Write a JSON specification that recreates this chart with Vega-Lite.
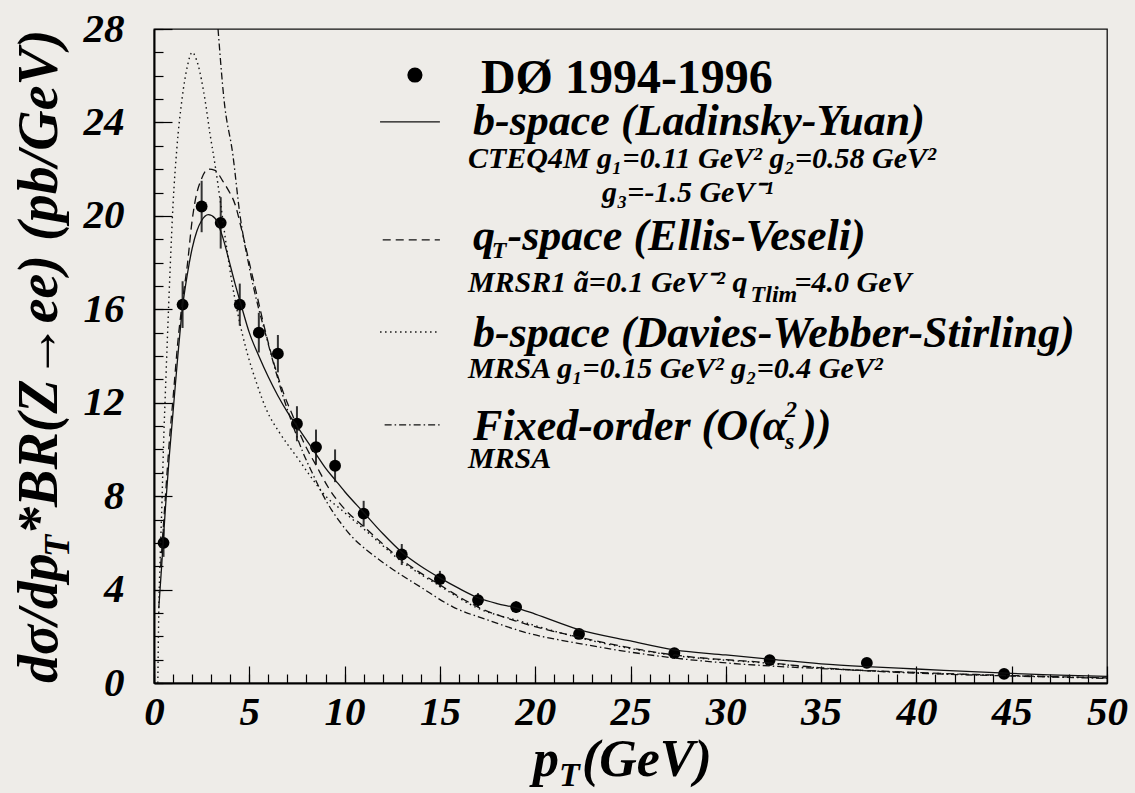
{
  "$schema": "https://vega.github.io/schema/vega-lite/v6.json",
  "width": 953,
  "height": 654,
  "autosize": {"type": "none"},
  "padding": {"left": 154, "top": 29, "right": 28, "bottom": 110},
  "background": "#eeece8",
  "config": {"view": {"stroke": "#111", "strokeWidth": 1.3, "fill": null}, "font": "Liberation Serif, Times New Roman, serif"},
  "resolve": {"axis": {"x": "independent", "y": "independent"}},
  "datasets": {
    "pts": [
      {"x": 0.5, "y": 6.0, "lo": 5.4, "hi": 6.6},
      {"x": 1.5, "y": 16.2, "lo": 15.2, "hi": 17.2},
      {"x": 2.5, "y": 20.4, "lo": 19.3, "hi": 21.5},
      {"x": 3.5, "y": 19.7, "lo": 18.6, "hi": 20.8},
      {"x": 4.5, "y": 16.2, "lo": 15.3, "hi": 17.1},
      {"x": 5.5, "y": 15.0, "lo": 14.15, "hi": 15.85},
      {"x": 6.5, "y": 14.1, "lo": 13.3, "hi": 14.9},
      {"x": 7.5, "y": 11.1, "lo": 10.35, "hi": 11.85},
      {"x": 8.5, "y": 10.1, "lo": 9.35, "hi": 10.85},
      {"x": 9.5, "y": 9.3, "lo": 8.6, "hi": 10.0},
      {"x": 11.0, "y": 7.25, "lo": 6.7, "hi": 7.8},
      {"x": 13.0, "y": 5.5, "lo": 5.05, "hi": 5.95},
      {"x": 15.0, "y": 4.45, "lo": 4.1, "hi": 4.8},
      {"x": 17.0, "y": 3.55, "lo": 3.25, "hi": 3.85},
      {"x": 19.0, "y": 3.25, "lo": 3.0, "hi": 3.5},
      {"x": 22.3, "y": 2.1, "lo": 1.95, "hi": 2.25},
      {"x": 27.3, "y": 1.28, "lo": 1.18, "hi": 1.38},
      {"x": 32.3, "y": 0.98, "lo": 0.88, "hi": 1.08},
      {"x": 37.4, "y": 0.86, "lo": 0.78, "hi": 0.94},
      {"x": 44.6, "y": 0.39, "lo": 0.34, "hi": 0.44}
    ],
    "curves": [
      {"m": "ly", "x": 0.25, "y": 3.2}, {"m": "ly", "x": 0.4, "y": 5.0}, {"m": "ly", "x": 0.6, "y": 7.5},
      {"m": "ly", "x": 0.8, "y": 9.7}, {"m": "ly", "x": 1.0, "y": 11.6}, {"m": "ly", "x": 1.25, "y": 14.0},
      {"m": "ly", "x": 1.5, "y": 16.1}, {"m": "ly", "x": 1.75, "y": 17.5}, {"m": "ly", "x": 2.0, "y": 18.6},
      {"m": "ly", "x": 2.25, "y": 19.35}, {"m": "ly", "x": 2.5, "y": 19.8}, {"m": "ly", "x": 2.85, "y": 20.05},
      {"m": "ly", "x": 3.2, "y": 19.9}, {"m": "ly", "x": 3.6, "y": 19.1}, {"m": "ly", "x": 3.9, "y": 18.2},
      {"m": "ly", "x": 4.25, "y": 17.1}, {"m": "ly", "x": 4.6, "y": 16.1}, {"m": "ly", "x": 5.0, "y": 15.0},
      {"m": "ly", "x": 5.5, "y": 14.0}, {"m": "ly", "x": 6.0, "y": 13.1}, {"m": "ly", "x": 6.5, "y": 12.3},
      {"m": "ly", "x": 7.0, "y": 11.6}, {"m": "ly", "x": 7.5, "y": 11.0}, {"m": "ly", "x": 8.0, "y": 10.4},
      {"m": "ly", "x": 8.5, "y": 9.8}, {"m": "ly", "x": 9.0, "y": 9.2}, {"m": "ly", "x": 9.5, "y": 8.7},
      {"m": "ly", "x": 10.0, "y": 8.2}, {"m": "ly", "x": 11.0, "y": 7.3}, {"m": "ly", "x": 12.0, "y": 6.4},
      {"m": "ly", "x": 13.0, "y": 5.6}, {"m": "ly", "x": 14.0, "y": 5.0}, {"m": "ly", "x": 15.0, "y": 4.5},
      {"m": "ly", "x": 16.0, "y": 4.05}, {"m": "ly", "x": 17.0, "y": 3.65}, {"m": "ly", "x": 18.0, "y": 3.4},
      {"m": "ly", "x": 19.0, "y": 3.22}, {"m": "ly", "x": 20.0, "y": 2.95}, {"m": "ly", "x": 22.25, "y": 2.3},
      {"m": "ly", "x": 25.0, "y": 1.8}, {"m": "ly", "x": 27.3, "y": 1.42}, {"m": "ly", "x": 30.0, "y": 1.2},
      {"m": "ly", "x": 32.3, "y": 1.02}, {"m": "ly", "x": 35.0, "y": 0.82}, {"m": "ly", "x": 37.4, "y": 0.7},
      {"m": "ly", "x": 40.0, "y": 0.6}, {"m": "ly", "x": 44.4, "y": 0.43}, {"m": "ly", "x": 47.0, "y": 0.35},
      {"m": "ly", "x": 50.0, "y": 0.28},
      {"m": "ev", "x": 0.35, "y": 5.0}, {"m": "ev", "x": 0.6, "y": 8.0}, {"m": "ev", "x": 0.8, "y": 10.3},
      {"m": "ev", "x": 1.0, "y": 12.2}, {"m": "ev", "x": 1.25, "y": 14.6}, {"m": "ev", "x": 1.5, "y": 16.4},
      {"m": "ev", "x": 1.75, "y": 17.9}, {"m": "ev", "x": 2.0, "y": 19.8}, {"m": "ev", "x": 2.15, "y": 20.6},
      {"m": "ev", "x": 2.5, "y": 21.6}, {"m": "ev", "x": 2.85, "y": 22.0}, {"m": "ev", "x": 3.2, "y": 21.95},
      {"m": "ev", "x": 3.6, "y": 21.5}, {"m": "ev", "x": 3.9, "y": 21.1}, {"m": "ev", "x": 4.25, "y": 20.5},
      {"m": "ev", "x": 4.6, "y": 19.4}, {"m": "ev", "x": 5.0, "y": 18.0}, {"m": "ev", "x": 5.4, "y": 16.6},
      {"m": "ev", "x": 5.8, "y": 15.2}, {"m": "ev", "x": 6.25, "y": 13.8}, {"m": "ev", "x": 6.8, "y": 12.4},
      {"m": "ev", "x": 7.3, "y": 11.4}, {"m": "ev", "x": 7.8, "y": 10.4}, {"m": "ev", "x": 8.55, "y": 9.25},
      {"m": "ev", "x": 9.2, "y": 8.3}, {"m": "ev", "x": 10.0, "y": 7.45}, {"m": "ev", "x": 11.0, "y": 6.7},
      {"m": "ev", "x": 13.0, "y": 5.27}, {"m": "ev", "x": 15.0, "y": 4.2}, {"m": "ev", "x": 17.0, "y": 3.25},
      {"m": "ev", "x": 19.2, "y": 2.6}, {"m": "ev", "x": 22.25, "y": 1.97}, {"m": "ev", "x": 27.3, "y": 1.2},
      {"m": "ev", "x": 32.3, "y": 0.86}, {"m": "ev", "x": 35.0, "y": 0.65}, {"m": "ev", "x": 40.0, "y": 0.45},
      {"m": "ev", "x": 45.0, "y": 0.32}, {"m": "ev", "x": 50.0, "y": 0.22},
      {"m": "dws", "x": 0.2, "y": 0.0}, {"m": "dws", "x": 0.25, "y": 3.0}, {"m": "dws", "x": 0.33, "y": 5.5},
      {"m": "dws", "x": 0.42, "y": 7.8}, {"m": "dws", "x": 0.5, "y": 10.2}, {"m": "dws", "x": 0.6, "y": 12.5},
      {"m": "dws", "x": 0.7, "y": 14.7}, {"m": "dws", "x": 0.85, "y": 17.8}, {"m": "dws", "x": 1.0, "y": 20.5},
      {"m": "dws", "x": 1.2, "y": 22.9}, {"m": "dws", "x": 1.47, "y": 25.0}, {"m": "dws", "x": 1.75, "y": 26.4},
      {"m": "dws", "x": 2.0, "y": 27.0}, {"m": "dws", "x": 2.3, "y": 26.5}, {"m": "dws", "x": 2.67, "y": 25.0},
      {"m": "dws", "x": 2.94, "y": 23.5}, {"m": "dws", "x": 3.2, "y": 22.2}, {"m": "dws", "x": 3.5, "y": 20.5},
      {"m": "dws", "x": 3.8, "y": 18.7}, {"m": "dws", "x": 4.1, "y": 17.1}, {"m": "dws", "x": 4.4, "y": 15.8},
      {"m": "dws", "x": 4.9, "y": 14.1}, {"m": "dws", "x": 5.4, "y": 12.8}, {"m": "dws", "x": 5.9, "y": 11.7},
      {"m": "dws", "x": 6.6, "y": 10.7}, {"m": "dws", "x": 7.5, "y": 9.67}, {"m": "dws", "x": 8.34, "y": 8.7},
      {"m": "dws", "x": 8.9, "y": 8.1}, {"m": "dws", "x": 10.0, "y": 7.3}, {"m": "dws", "x": 11.0, "y": 6.6},
      {"m": "dws", "x": 13.0, "y": 5.2}, {"m": "dws", "x": 15.0, "y": 4.15}, {"m": "dws", "x": 17.0, "y": 3.2},
      {"m": "dws", "x": 19.2, "y": 2.65}, {"m": "dws", "x": 22.25, "y": 1.95}, {"m": "dws", "x": 27.3, "y": 1.18},
      {"m": "dws", "x": 32.3, "y": 0.84}, {"m": "dws", "x": 35.0, "y": 0.64}, {"m": "dws", "x": 40.0, "y": 0.44},
      {"m": "dws", "x": 45.0, "y": 0.31}, {"m": "dws", "x": 50.0, "y": 0.22},
      {"m": "fo", "x": 3.36, "y": 28.0}, {"m": "fo", "x": 3.67, "y": 25.0}, {"m": "fo", "x": 4.14, "y": 22.6},
      {"m": "fo", "x": 4.5, "y": 20.1}, {"m": "fo", "x": 5.0, "y": 17.8}, {"m": "fo", "x": 5.5, "y": 16.0},
      {"m": "fo", "x": 5.8, "y": 15.1}, {"m": "fo", "x": 6.3, "y": 13.6}, {"m": "fo", "x": 6.8, "y": 12.2},
      {"m": "fo", "x": 7.3, "y": 11.0}, {"m": "fo", "x": 7.8, "y": 9.9}, {"m": "fo", "x": 8.3, "y": 9.0},
      {"m": "fo", "x": 9.1, "y": 7.7}, {"m": "fo", "x": 9.8, "y": 6.85}, {"m": "fo", "x": 10.4, "y": 6.25},
      {"m": "fo", "x": 11.3, "y": 5.6}, {"m": "fo", "x": 12.2, "y": 5.05}, {"m": "fo", "x": 14.0, "y": 4.1},
      {"m": "fo", "x": 15.7, "y": 3.25}, {"m": "fo", "x": 17.5, "y": 2.7}, {"m": "fo", "x": 19.6, "y": 2.14},
      {"m": "fo", "x": 22.25, "y": 1.7}, {"m": "fo", "x": 27.3, "y": 1.07}, {"m": "fo", "x": 32.3, "y": 0.73},
      {"m": "fo", "x": 36.0, "y": 0.58}, {"m": "fo", "x": 40.0, "y": 0.42}, {"m": "fo", "x": 45.0, "y": 0.3},
      {"m": "fo", "x": 50.0, "y": 0.2}
    ],
    "legLines": [
      {"m": "ly", "x": 11.86, "x2": 15.0, "y": 24.02},
      {"m": "ev", "x": 12.0, "x2": 15.0, "y": 18.97},
      {"m": "dws", "x": 11.86, "x2": 15.0, "y": 15.03},
      {"m": "fo", "x": 12.1, "x2": 15.0, "y": 11.05}
    ],
    "legDot": [{"x": 13.69, "y": 26.03}],
    "tTitle": [{"x": 17.15, "y": 25.26, "t": "DØ 1994-1996"}],
    "tHead": [
      {"x": 16.74, "y": 23.46, "t": "b-space (Ladinsky-Yuan)"},
      {"x": 16.74, "y": 18.54, "t": "q"},
      {"x": 18.55, "y": 18.54, "t": "-space (Ellis-Veseli)"},
      {"x": 16.74, "y": 14.39, "t": "b-space (Davies-Webber-Stirling)"},
      {"x": 16.74, "y": 10.4, "t": "Fixed-order (O(α"},
      {"x": 34.0, "y": 10.4, "t": "))"}
    ],
    "tSub": [
      {"x": 16.47, "y": 22.05, "t": "CTEQ4M g₁=0.11 GeV² g₂=0.58 GeV²"},
      {"x": 23.5, "y": 20.59, "t": "g₃=-1.5 GeV⁻¹"},
      {"x": 16.47, "y": 16.74, "t": "MRSR1 ã=0.1 GeV⁻² q"},
      {"x": 33.6, "y": 16.74, "t": "=4.0 GeV"},
      {"x": 16.47, "y": 13.06, "t": "MRSA g₁=0.15 GeV² g₂=0.4 GeV²"},
      {"x": 16.47, "y": 9.2, "t": "MRSA"}
    ],
    "tTiny": [
      {"x": 17.72, "y": 18.2, "t": "T"},
      {"x": 31.3, "y": 16.31, "t": "Tlim"},
      {"x": 33.1, "y": 11.4, "t": "2"},
      {"x": 33.1, "y": 10.0, "t": "s"}
    ],
    "tXTitle": [
      {"x": 19.88, "y": -3.98, "t": "p"},
      {"x": 22.45, "y": -3.98, "t": "(GeV)"}
    ],
    "tXSub": [{"x": 21.25, "y": -4.4, "t": "T"}],
    "tYTitle": [
      {"x": -5.09, "y": 0.0, "t": "dσ/dp"},
      {"x": -5.09, "y": 6.34, "t": "*BR(Z→ee) (pb/GeV)"}
    ],
    "tYSub": [{"x": -4.46, "y": 5.39, "t": "T"}]
  },
  "encoding": {
    "x": {"field": "x", "type": "quantitative", "scale": {"domain": [0, 50], "nice": false, "zero": false}, "axis": null},
    "y": {"field": "y", "type": "quantitative", "scale": {"domain": [0, 28], "nice": false, "zero": false}, "axis": null}
  },
  "layer": [
    {"data": {"name": "pts"}, "mark": {"type": "rule", "color": "#333", "strokeWidth": 2},
     "encoding": {
       "x": {"field": "x", "type": "quantitative", "scale": {"domain": [0, 50], "nice": false, "zero": false},
             "axis": {"orient": "bottom", "title": null, "grid": false, "labels": false,
                      "values": [0,1,2,3,4,5,6,7,8,9,10,11,12,13,14,15,16,17,18,19,20,21,22,23,24,25,26,27,28,29,30,31,32,33,34,35,36,37,38,39,40,41,42,43,44,45,46,47,48,49,50],
                      "tickSize": -9, "tickColor": "#000", "tickWidth": 1.2, "domainColor": "#000", "domainWidth": 2}},
       "y": {"field": "lo", "type": "quantitative", "title": null, "scale": {"domain": [0, 28], "nice": false, "zero": false},
             "axis": {"orient": "left", "title": null, "grid": false, "labels": false,
                      "values": [0,1,2,3,4,5,6,7,8,9,10,11,12,13,14,15,16,17,18,19,20,21,22,23,24,25,26,27,28],
                      "tickSize": -9, "tickColor": "#000", "tickWidth": 1.2, "domainColor": "#000", "domainWidth": 2}},
       "y2": {"field": "hi"}}},
    {"data": {"name": "pts"}, "mark": {"type": "point", "filled": true, "shape": "circle", "size": 140, "color": "#000", "opacity": 1},
     "encoding": {
       "x": {"field": "x", "type": "quantitative", "scale": {"domain": [0, 50], "nice": false, "zero": false},
             "axis": {"orient": "bottom", "title": null, "grid": false, "labels": false, "domain": false,
                      "values": [0,5,10,15,20,25,30,35,40,45,50],
                      "tickSize": -17, "tickColor": "#000", "tickWidth": 1.2}},
       "y": {"field": "y", "type": "quantitative", "scale": {"domain": [0, 28], "nice": false, "zero": false},
             "axis": {"orient": "left", "title": null, "grid": false, "labels": false, "domain": false,
                      "values": [0,4,8,12,16,20,24,28],
                      "tickSize": -18, "tickColor": "#000", "tickWidth": 1.2}}}},
    {"data": {"name": "curves"}, "transform": [{"filter": "datum.m === 'ly'"}],
     "mark": {"type": "line", "color": "#111", "strokeWidth": 1.3, "interpolate": "monotone"}},
    {"data": {"name": "curves"}, "transform": [{"filter": "datum.m === 'ev'"}],
     "mark": {"type": "line", "color": "#111", "strokeWidth": 1.3, "strokeDash": [8, 5], "interpolate": "monotone"}},
    {"data": {"name": "curves"}, "transform": [{"filter": "datum.m === 'dws'"}],
     "mark": {"type": "line", "color": "#111", "strokeWidth": 1.4, "strokeDash": [1.5, 3.5], "interpolate": "monotone"}},
    {"data": {"name": "curves"}, "transform": [{"filter": "datum.m === 'fo'"}],
     "mark": {"type": "line", "color": "#111", "strokeWidth": 1.3, "strokeDash": [7, 3, 1.5, 3], "interpolate": "monotone"}},
    {"data": {"name": "legLines"}, "transform": [{"filter": "datum.m === 'ly'"}],
     "mark": {"type": "rule", "color": "#111", "strokeWidth": 1.3}, "encoding": {"x2": {"field": "x2"}}},
    {"data": {"name": "legLines"}, "transform": [{"filter": "datum.m === 'ev'"}],
     "mark": {"type": "rule", "color": "#111", "strokeWidth": 1.3, "strokeDash": [8, 5]}, "encoding": {"x2": {"field": "x2"}}},
    {"data": {"name": "legLines"}, "transform": [{"filter": "datum.m === 'dws'"}],
     "mark": {"type": "rule", "color": "#111", "strokeWidth": 1.4, "strokeDash": [1.5, 3.5]}, "encoding": {"x2": {"field": "x2"}}},
    {"data": {"name": "legLines"}, "transform": [{"filter": "datum.m === 'fo'"}],
     "mark": {"type": "rule", "color": "#111", "strokeWidth": 1.3, "strokeDash": [7, 3, 1.5, 3]}, "encoding": {"x2": {"field": "x2"}}},
    {"data": {"name": "legDot"}, "mark": {"type": "point", "filled": true, "shape": "circle", "size": 230, "color": "#000", "opacity": 1},
     "encoding": {
       "x": {"field": "x", "type": "quantitative", "scale": {"domain": [0, 50], "nice": false, "zero": false},
             "axis": {"orient": "bottom", "title": null, "grid": false, "ticks": false, "domain": false, "offset": 3,
                      "values": [0,5,10,15,20,25,30,35,40,45,50],
                      "labelFont": "Liberation Serif, Times New Roman, serif", "labelFontSize": 41, "labelFontWeight": "bold", "labelFontStyle": "italic",
                      "labelColor": "#000", "labelPadding": 6, "labelFlush": false, "labelOverlap": false, "labelBound": false}},
       "y": {"field": "y", "type": "quantitative", "scale": {"domain": [0, 28], "nice": false, "zero": false},
             "axis": {"orient": "left", "title": null, "grid": false, "ticks": false, "domain": false, "offset": 8,
                      "values": [0,4,8,12,16,20,24,28],
                      "labelFont": "Liberation Serif, Times New Roman, serif", "labelFontSize": 41, "labelFontWeight": "bold", "labelFontStyle": "italic",
                      "labelColor": "#000", "labelPadding": 22, "labelFlush": false, "labelOverlap": false, "labelBound": false}}}},
    {"data": {"name": "tTitle"}, "mark": {"type": "text", "font": "Liberation Serif, Times New Roman, serif", "fontWeight": "bold", "fontSize": 48, "align": "left", "baseline": "alphabetic", "color": "#000"},
     "encoding": {"text": {"field": "t"}}},
    {"data": {"name": "tHead"}, "mark": {"type": "text", "font": "Liberation Serif, Times New Roman, serif", "fontWeight": "bold", "fontStyle": "italic", "fontSize": 44, "align": "left", "baseline": "alphabetic", "color": "#000"},
     "encoding": {"text": {"field": "t"}}},
    {"data": {"name": "tSub"}, "mark": {"type": "text", "font": "Liberation Serif, Times New Roman, serif", "fontWeight": "bold", "fontStyle": "italic", "fontSize": 30, "align": "left", "baseline": "alphabetic", "color": "#000"},
     "encoding": {"text": {"field": "t"}}},
    {"data": {"name": "tTiny"}, "mark": {"type": "text", "font": "Liberation Serif, Times New Roman, serif", "fontWeight": "bold", "fontStyle": "italic", "fontSize": 24, "align": "left", "baseline": "alphabetic", "color": "#000"},
     "encoding": {"text": {"field": "t"}}},
    {"data": {"name": "tXTitle"}, "mark": {"type": "text", "font": "Liberation Serif, Times New Roman, serif", "fontWeight": "bold", "fontStyle": "italic", "fontSize": 52, "align": "left", "baseline": "alphabetic", "color": "#000"},
     "encoding": {"text": {"field": "t"}}},
    {"data": {"name": "tXSub"}, "mark": {"type": "text", "font": "Liberation Serif, Times New Roman, serif", "fontWeight": "bold", "fontStyle": "italic", "fontSize": 34, "align": "left", "baseline": "alphabetic", "color": "#000"},
     "encoding": {"text": {"field": "t"}}},
    {"data": {"name": "tYTitle"}, "mark": {"type": "text", "font": "Liberation Serif, Times New Roman, serif", "fontWeight": "bold", "fontStyle": "italic", "fontSize": 56, "angle": 270, "align": "left", "baseline": "alphabetic", "color": "#000"},
     "encoding": {"text": {"field": "t"}}},
    {"data": {"name": "tYSub"}, "mark": {"type": "text", "font": "Liberation Serif, Times New Roman, serif", "fontWeight": "bold", "fontStyle": "italic", "fontSize": 36, "angle": 270, "align": "left", "baseline": "alphabetic", "color": "#000"},
     "encoding": {"text": {"field": "t"}}}
  ]
}
